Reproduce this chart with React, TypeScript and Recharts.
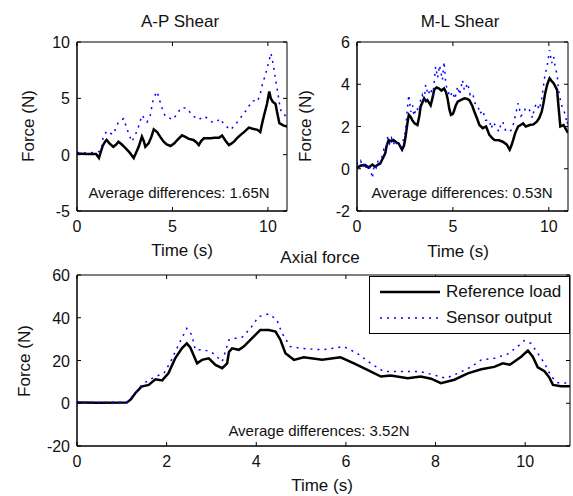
import React from "react"
import { LineChart, Line, XAxis, YAxis, Legend, ReferenceArea } from "recharts"

// A-P shear
const apRefTime = [0, 0.5, 1.0, 1.15, 1.2, 1.35, 1.47, 1.55, 1.7, 1.9, 2.05, 2.17, 2.35, 2.53, 2.75, 2.97, 3.1, 3.23, 3.4, 3.5, 3.58, 3.75, 3.9, 4.02, 4.2, 4.35, 4.54, 4.7, 4.9, 5.1, 5.25, 5.5, 5.7, 5.86, 6.1, 6.25, 6.38, 6.5, 6.65, 7.0, 7.2, 7.44, 7.6, 7.8, 7.96, 8.1, 8.25, 8.4, 8.6, 8.75, 9.0, 9.2, 9.45, 9.6, 9.7, 9.8, 9.95, 10.07, 10.15, 10.25, 10.4, 10.5, 10.6, 10.8, 11.0]
const apRefForce = [0.1, 0.05, 0.05, -0.3, 0.0, 0.8, 1.15, 1.3, 1.0, 0.7, 0.9, 1.15, 0.9, 0.6, 0.2, -0.3, 0.2, 0.7, 1.6, 1.2, 0.7, 1.0, 1.6, 2.25, 2.0, 1.6, 1.15, 0.9, 0.77, 1.0, 1.3, 1.72, 1.55, 1.4, 1.3, 1.1, 0.85, 1.2, 1.45, 1.45, 1.5, 1.5, 1.7, 1.2, 0.85, 1.0, 1.2, 1.5, 1.8, 2.0, 2.4, 2.3, 2.2, 2.0, 2.8, 3.5, 4.5, 5.6, 5.0, 4.7, 4.5, 3.6, 2.8, 2.6, 2.5]
const apSenTime = [0, 0.5, 1.0, 1.2, 1.3, 1.38, 1.6, 1.75, 1.9, 2.05, 2.17, 2.44, 2.6, 2.7, 2.88, 3.0, 3.15, 3.3, 3.4, 3.55, 3.67, 3.84, 4.0, 4.19, 4.37, 4.5, 4.63, 4.8, 5.0, 5.2, 5.35, 5.5, 5.77, 6.03, 6.2, 6.38, 6.55, 6.7, 6.9, 7.07, 7.3, 7.5, 7.7, 7.9, 8.05, 8.25, 8.5, 8.7, 8.85, 9.0, 9.2, 9.45, 9.6, 9.72, 9.85, 9.98, 10.16, 10.3, 10.35, 10.5, 10.6, 10.7, 10.85, 11.0]
const apSenForce = [0.2, 0.15, 0.2, 0.3, 0.7, 1.7, 2.1, 1.9, 1.8, 2.4, 2.9, 3.2, 2.4, 1.9, 1.15, 1.6, 2.1, 2.9, 3.5, 3.2, 2.9, 3.5, 5.0, 5.6, 4.6, 3.9, 3.4, 3.3, 3.1, 3.5, 3.9, 4.2, 4.1, 3.5, 3.3, 3.1, 3.3, 3.4, 3.1, 2.9, 2.9, 3.2, 2.7, 2.4, 2.2, 2.6, 3.1, 3.6, 3.9, 4.3, 4.8, 4.7, 5.4, 6.3, 7.0, 7.8, 9.0, 7.8, 7.2, 5.7, 4.6, 3.75, 3.6, 3.2]

// M-L shear
const mlRefTime = [0, 0.2, 0.43, 0.6, 0.8, 0.95, 1.1, 1.21, 1.35, 1.47, 1.55, 1.65, 1.8, 1.9, 2.05, 2.17, 2.35, 2.45, 2.53, 2.62, 2.7, 2.8, 2.88, 3.0, 3.15, 3.25, 3.32, 3.5, 3.6, 3.67, 3.84, 3.95, 4.02, 4.15, 4.28, 4.4, 4.54, 4.65, 4.72, 4.82, 4.9, 5.0, 5.07, 5.15, 5.25, 5.4, 5.6, 5.75, 5.86, 6.0, 6.12, 6.25, 6.38, 6.56, 6.73, 6.9, 7.05, 7.17, 7.4, 7.6, 7.8, 7.96, 8.05, 8.14, 8.25, 8.4, 8.66, 8.8, 9.0, 9.2, 9.37, 9.5, 9.63, 9.72, 9.81, 9.92, 10.04, 10.15, 10.25, 10.43, 10.5, 10.6, 10.77, 10.9, 11.0]
const mlRefForce = [0.05, 0.15, 0.17, 0.05, 0.2, 0.1, 0.2, 0.25, 0.5, 0.73, 1.1, 1.36, 1.3, 1.36, 1.25, 1.2, 0.9, 1.1, 1.5, 2.1, 2.55, 2.45, 2.3, 2.15, 2.07, 2.5, 2.95, 3.33, 3.2, 3.25, 3.0, 3.4, 3.73, 3.85, 3.8, 3.7, 3.8, 3.6, 3.33, 2.8, 2.55, 2.6, 2.77, 3.0, 3.18, 3.25, 3.33, 3.3, 3.25, 3.0, 2.7, 2.4, 2.07, 1.92, 2.0, 1.6, 1.45, 1.36, 1.35, 1.28, 1.15, 0.9, 1.1, 1.36, 1.7, 2.0, 2.15, 2.0, 2.07, 2.1, 2.23, 2.4, 2.7, 3.1, 3.57, 4.0, 4.28, 4.15, 4.05, 3.73, 3.0, 2.0, 2.07, 1.85, 1.7]
const mlSenTime = [0, 0.1, 0.2, 0.3, 0.4, 0.5, 0.6, 0.7, 0.8, 0.9, 1.0, 1.1, 1.2, 1.3, 1.4, 1.5, 1.6, 1.7, 1.8, 1.9, 2.0, 2.1, 2.25, 2.4, 2.53, 2.6, 2.7, 2.8, 2.9, 2.97, 3.1, 3.23, 3.3, 3.4, 3.5, 3.58, 3.7, 3.84, 3.95, 4.1, 4.2, 4.3, 4.37, 4.45, 4.54, 4.63, 4.72, 4.85, 4.98, 5.1, 5.25, 5.35, 5.5, 5.6, 5.77, 5.9, 6.03, 6.15, 6.3, 6.4, 6.56, 6.7, 6.9, 7.0, 7.1, 7.25, 7.4, 7.5, 7.6, 7.75, 7.96, 8.1, 8.2, 8.3, 8.4, 8.55, 8.66, 8.8, 9.0, 9.15, 9.25, 9.37, 9.5, 9.63, 9.72, 9.81, 9.9, 10.04, 10.15, 10.25, 10.35, 10.43, 10.5, 10.6, 10.7, 10.85, 10.95, 11.0]
const mlSenForce = [0.3, 0.0, 0.35, 0.1, 0.3, -0.05, 0.25, 0.0, -0.45, 0.2, 0.05, 0.4, 0.2, 0.57, 0.9, 0.7, 1.5, 1.2, 1.45, 1.15, 1.36, 1.1, 1.0, 1.3, 1.8, 2.6, 3.5, 2.7, 3.0, 2.5, 2.9, 2.7, 3.2, 3.5, 3.2, 3.97, 3.5, 3.8, 3.4, 4.83, 4.3, 4.9, 4.6, 4.2, 5.07, 4.0, 3.73, 3.4, 3.65, 3.3, 3.9, 3.5, 4.2, 3.7, 4.05, 3.5, 3.57, 3.1, 3.0, 2.6, 2.77, 2.3, 2.3, 1.9, 2.2, 2.0, 1.75, 2.1, 2.23, 1.8, 1.75, 1.9, 2.3, 2.7, 3.1, 2.5, 2.6, 2.9, 2.77, 2.4, 2.9, 3.1, 2.8, 3.33, 3.9, 4.5, 4.8, 5.62, 5.0, 5.3, 4.7, 4.5, 3.8, 3.25, 2.9, 2.6, 2.1, 2.3]

// Axial force
const axRefTime = [0, 0.5, 1.11, 1.2, 1.3, 1.44, 1.6, 1.75, 1.9, 2.04, 2.19, 2.34, 2.45, 2.53, 2.6, 2.68, 2.79, 2.94, 3.09, 3.24, 3.35, 3.39, 3.46, 3.61, 3.72, 3.83, 3.98, 4.09, 4.28, 4.43, 4.54, 4.65, 4.84, 5.06, 5.47, 5.88, 6.18, 6.48, 6.78, 7.0, 7.38, 7.67, 7.9, 8.12, 8.42, 8.72, 9.02, 9.31, 9.5, 9.66, 9.91, 10.06, 10.17, 10.28, 10.43, 10.54, 10.62, 10.8, 11.0]
const axRefForce = [0.3, 0.2, 0.3, 1.8, 4.7, 7.8, 8.6, 11.2, 10.7, 14, 21, 25.7, 28, 26, 22.6, 18.7, 20.3, 21, 17.9, 16.4, 18.7, 24, 25.7, 25, 26.5, 28.8, 32, 34.3, 34.3, 33.5, 29.6, 23.4, 20.3, 21.5, 20.3, 21.5, 18.7, 15.6, 12.5, 13, 11.7, 12.5, 11.5, 9.4, 11, 14, 15.9, 17, 18.7, 18, 21.8, 24.6, 21.8, 16.8, 15, 12, 8.6, 8, 8]
const axSenTime = [0, 0.5, 1.11, 1.3, 1.44, 1.57, 1.75, 1.94, 2.09, 2.19, 2.3, 2.45, 2.56, 2.64, 2.82, 3.0, 3.24, 3.39, 3.54, 3.69, 3.87, 4.05, 4.28, 4.46, 4.57, 4.76, 5.0, 5.47, 5.95, 6.25, 6.55, 6.85, 7.3, 7.67, 7.97, 8.23, 8.5, 8.8, 9.02, 9.31, 9.61, 9.83, 9.98, 10.13, 10.28, 10.43, 10.58, 10.73, 11.0]
const axSenForce = [0.5, 0.4, 0.5, 4.7, 8.5, 10.4, 12.5, 14, 19.5, 24, 28.8, 35, 32, 25, 25, 24, 19.5, 29.6, 30.4, 31, 35, 40.5, 41.8, 39, 33, 26.5, 25.7, 25, 26.5, 23.4, 18.7, 14.8, 14.8, 14.8, 13.2, 11.7, 14, 17.1, 20.3, 21, 23, 26.5, 29.3, 28, 23.4, 18.7, 12.5, 9.6, 9.4]

const shearTimeTicks = [0, 5, 10]
const apForceTicks = [-5, 0, 5, 10]
const mlForceTicks = [-2, 0, 2, 4, 6]
const axTimeTicks = [0, 2, 4, 6, 8, 10]
const axForceTicks = [-20, 0, 20, 40, 60]

const FONT = "'Liberation Sans', Arial, sans-serif"
const TICK = 4

const toPoints = (t: number[], v: number[]) => t.map((x, i) => ({ t: x, f: v[i] }))

function Txt({ x, y, size = 17, rotate = 0, children }: any) {
  return (
    <div
      style={{
        position: "absolute",
        left: x,
        top: y,
        transform: `translate(-50%, -50%) rotate(${rotate}deg)`,
        whiteSpace: "nowrap",
        fontSize: size,
        fontFamily: FONT,
        color: "#111",
        lineHeight: 1,
      }}
    >
      {children}
    </div>
  )
}

// inward MATLAB-style ticks on both opposite sides of the box, drawn with the label
const BottomTick = ({ x, y, payload, span }: any) => (
  <g>
    <line x1={x} y1={y} x2={x} y2={y - TICK} stroke="#000" strokeWidth={1} />
    <line x1={x} y1={y - span} x2={x} y2={y - span + TICK} stroke="#000" strokeWidth={1} />
    <text x={x} y={y + 21} textAnchor="middle" fontSize={16} fontFamily={FONT} fill="#111">{payload.value}</text>
  </g>
)
const LeftTick = ({ x, y, payload, span }: any) => (
  <g>
    <line x1={x} y1={y} x2={x + TICK} y2={y} stroke="#000" strokeWidth={1} />
    <line x1={x + span} y1={y} x2={x + span - TICK} y2={y} stroke="#000" strokeWidth={1} />
    <text x={x - 7} y={y + 6} textAnchor="end" fontSize={16} fontFamily={FONT} fill="#111">{payload.value}</text>
  </g>
)

function Panel({ width, height, top, right, bottom, timeTicks, forceTicks, forceDomain, refData, senData, children }: any) {
  const plotW = width - 77 - right
  const plotH = height - top - bottom
  return (
    <LineChart width={width} height={height} margin={{ top, right, bottom: 0, left: 0 }}>
      <XAxis dataKey="t" type="number" domain={[0, 11]} ticks={timeTicks} allowDataOverflow stroke="#000" tick={<BottomTick span={plotH} />} tickLine={false} tickSize={0} tickMargin={0} height={bottom} />
      <YAxis type="number" domain={forceDomain} ticks={forceTicks} allowDataOverflow stroke="#000" tick={<LeftTick span={plotW} />} tickLine={false} tickSize={0} tickMargin={0} width={77} />
      <ReferenceArea x1={0} x2={11} y1={forceDomain[0]} y2={forceDomain[1]} fill="none" stroke="#000" strokeWidth={1} ifOverflow="visible" />
      <Line data={refData} dataKey="f" name="Reference load" stroke="#000" strokeWidth={2.5} dot={false} isAnimationActive={false} />
      <Line data={senData} dataKey="f" name="Sensor output" stroke="#0000ff" strokeWidth={1.5} strokeDasharray="2 5" dot={false} isAnimationActive={false} />
      {children}
    </LineChart>
  )
}

function LegendBox() {
  const row = (dash: string | undefined, color: string, w: number, label: string) => (
    <div style={{ display: "flex", alignItems: "center", height: 26 }}>
      <svg width={68} height={10} style={{ marginLeft: 8 }}>
        <line x1={2} y1={5} x2={62} y2={5} stroke={color} strokeWidth={w} strokeDasharray={dash} />
      </svg>
      <span style={{ fontSize: 17, fontFamily: FONT, color: "#111" }}>{label}</span>
    </div>
  )
  return (
    <div style={{ border: "1px solid #000", background: "#fff", width: 199, height: 54, boxSizing: "content-box", paddingTop: 2, textAlign: "left" }}>
      {row(undefined, "#000", 2.5, "Reference load")}
      {row("2 5", "#0000ff", 1.5, "Sensor output")}
    </div>
  )
}

export default function App() {
  return (
    <div style={{ position: "absolute", left: 0, top: 0, width: 573, height: 496, background: "#fff", overflow: "hidden" }}>
      <div style={{ position: "absolute", left: 0, top: 0 }}>
        <Panel
          width={300}
          height={262}
          top={42}
          right={13}
          bottom={51}
          timeTicks={shearTimeTicks}
          forceTicks={apForceTicks}
          forceDomain={[-5, 10]}
          refData={toPoints(apRefTime, apRefForce)}
          senData={toPoints(apSenTime, apSenForce)}
        />
      </div>
      <div style={{ position: "absolute", left: 280, top: 0 }}>
        <Panel
          width={293}
          height={262}
          top={42}
          right={5}
          bottom={51}
          timeTicks={shearTimeTicks}
          forceTicks={mlForceTicks}
          forceDomain={[-2, 6]}
          refData={toPoints(mlRefTime, mlRefForce)}
          senData={toPoints(mlSenTime, mlSenForce)}
        />
      </div>
      <div style={{ position: "absolute", left: 0, top: 240 }}>
        <Panel
          width={573}
          height={256}
          top={35}
          right={3}
          bottom={50}
          timeTicks={axTimeTicks}
          forceTicks={axForceTicks}
          forceDomain={[-20, 60]}
          refData={toPoints(axRefTime, axRefForce)}
          senData={toPoints(axSenTime, axSenForce)}
        >
          <Legend
            layout="horizontal"
            verticalAlign="middle"
            align="center"
            content={() => <LegendBox />}
            wrapperStyle={{ position: "absolute", left: 369, top: 36, width: 201, height: 58 }}
          />
        </Panel>
      </div>

      <Txt x={180} y={21}>A-P Shear</Txt>
      <Txt x={460} y={21}>M-L Shear</Txt>
      <Txt x={320} y={257}>Axial force</Txt>

      <Txt x={182} y={250}>Time (s)</Txt>
      <Txt x={458} y={251}>Time (s)</Txt>
      <Txt x={322} y={485}>Time (s)</Txt>

      <Txt x={28} y={126} rotate={-90}>Force (N)</Txt>
      <Txt x={305} y={126} rotate={-90}>Force (N)</Txt>
      <Txt x={24} y={361} rotate={-90}>Force (N)</Txt>

      <Txt x={179} y={192} size={15}>Average differences: 1.65N</Txt>
      <Txt x={462} y={192} size={15}>Average differences: 0.53N</Txt>
      <Txt x={319} y={430} size={15}>Average differences: 3.52N</Txt>
    </div>
  )
}
